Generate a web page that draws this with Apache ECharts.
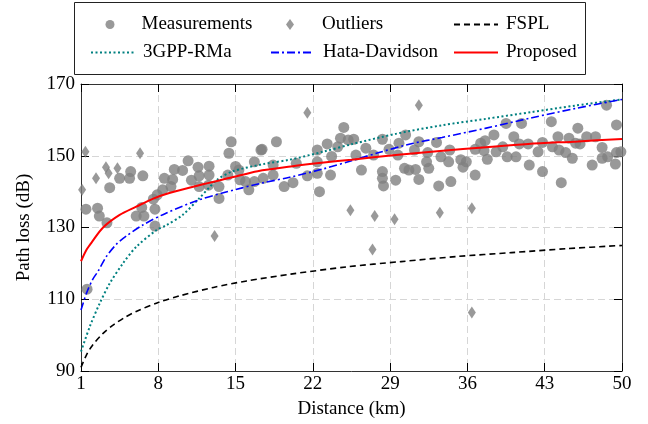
<!DOCTYPE html>
<html><head><meta charset="utf-8">
<script src="https://cdn.jsdelivr.net/npm/echarts@6/dist/echarts.min.js"></script>
<style>html,body{margin:0;padding:0;background:#fff}#c{width:648px;height:424px}</style>
</head><body><div id="c"></div>
<script>
const xTicks = [1, 8, 15, 22, 29, 36, 43, 50];
const measurements = [
[1.55,112.8],[1.45,135.1],[2.5,135.4],[2.66,133.2],[3.35,131.3],[3.6,141.1],[4.5,143.7],[5.4,143.7],[5.5,145.6],[6.6,144.4],[6.0,133.2],[6.5,135.6],[6.7,133.2],[7.7,135.1],[7.7,130.4],[7.55,137.9],[7.9,139.1],[8.4,140.5],[8.55,143.7],
[9.45,146.2],[10.2,145.9],[10.7,148.6],[11.6,146.8],[12.6,147.1],[9.3,143.4],[9.15,141.4],[11.0,143.2],[11.7,144.4],[11.7,141.4],[12.6,144.6],[12.55,141.8],[13.5,141.4],[13.5,138.1],[14.3,144.6],[14.4,150.7],[14.6,153.9],[15.0,147],[15.3,146],[15.4,143.3],[15.9,142.8],[16.2,140.5],[16.7,148.3],[17.3,151.6],[16.7,142.8],
[17.4,151.8],[18.7,153.9],[17.5,143.7],[18.4,147.4],[18.4,144.6],[19.4,141.4],[20.2,142.5],[20.5,147.9],[21.5,144.4],[22.4,145.1],[22.4,148.3],[22.4,151.6],[22.6,140.0],[23.3,153.3],[23.6,144.6],[23.7,149.8],[24.25,152.5],[24.5,154.9],[24.8,157.9],[25.2,154.4],
[25.7,154.6],[25.9,150.2],[26.8,152.1],[26.4,146],[27.5,150.2],[28.3,154.6],[28.9,151.8],[28.3,145.6],[28.3,143.7],[28.4,141.6],[29.5,143.2],[29.7,150.2],[29.8,153.5],[30.3,146.5],[30.4,155.8],[30.7,146.0],[31.2,151.6],[31.3,146.2],[31.6,153.9],[31.6,143.4],[32.3,148.3],[32.5,146.5],[32.4,150.9],[33.2,153.7],[33.4,141.6],[33.6,149.7],
[34.5,142.8],[34.4,151.6],[34.3,148.3],[35.4,148.9],[35.9,148.3],[35.6,146.8],[36.7,144.6],[36.7,151.8],[37.2,153.5],[37.6,154.2],[37.5,151.4],[37.8,149],[38.4,155.8],[38.6,151.1],[39.2,152.5],[39.6,149.7],[39.5,159.0],[40.2,155.3],[40.4,149.7],[40.7,153.3],[40.9,159.0],[41.5,153.3],[41.6,147.4],
[42.4,151.1],[42.8,153.7],[42.8,145.6],[43.6,159.5],[43.7,152.5],[44.2,155.3],[44.3,151.6],[44.5,142.5],[44.9,150.9],[45.2,154.9],[45.5,149.3],[45.8,153.5],[46.0,157.7],[46.2,153.3],[46.8,155.3],[47.3,147.4],[47.6,155.3],[48.2,152.3],[48.2,149.3],[48.6,164.1],[48.7,149.7],[49.4,147.7],[49.5,150.9],[49.5,158.6],[49.9,151.1]
];
const outliers = [
[1.1,140.5],[1.4,151.1],[2.36,143.7],[3.26,146.8],[3.5,145.1],[4.3,146.5],[6.35,150.7],[13.1,127.6],[21.5,162.0],[25.4,134.8],[27.4,123.9],[27.6,133.2],[29.4,132.3],[31.6,164.1],[33.5,134.1],[36.4,135.4],[36.4,106.3]
];
const fspl = [[1,91],[1.5,94.5],[2,97],[3,100.5],[4,103],[5,105],[6,106.6],[8,109.1],[10,111],[13,113.3],[16,115.1],[20,117],[25,119],[30,120.5],[35,121.9],[40,123],[45,124.1],[50,125]];
const rma = [[1,95.4],[1.8,102.4],[2.7,108.9],[3.6,114.4],[4.8,120],[6,124.6],[7.85,129.3],[8.7,130.6],[10.2,133.5],[11.7,138.1],[13.3,143.2],[14.7,145.6],[17.4,147.6],[19.9,148.9],[22.9,151.1],[25.5,153.2],[29.5,156.1],[33.7,158.5],[37.7,160.3],[41.85,162.2],[45.8,164.0],[50,165.7]];
const hata = [[1,107],[1.5,111.7],[2.05,115.5],[2.5,117.6],[3.3,121.9],[4.2,125.3],[5.1,127.6],[6.6,130.7],[8.7,134.0],[11.7,137.7],[13.8,139.6],[17.4,142.4],[19.9,144.0],[22.9,146.3],[25.5,148.6],[28,150.9],[31,153.4],[33.7,155.1],[37.7,157.7],[41.85,160.6],[45.8,163.2],[50,165.7]];
const proposed = [[1,120.6],[1.5,123.8],[2,126],[3,130],[4.5,133.5],[6,135.8],[7.5,138],[9,139.6],[11.7,141.8],[14.7,144],[17,145.7],[20,147],[23,148.1],[25.5,148.9],[29.5,150.2],[33.5,151.3],[37.7,152.4],[41.5,153.3],[46,154],[50,154.7]];

const FONT = 'Liberation Serif';
const chart = echarts.init(document.getElementById('c'), null, {renderer: 'canvas'});
function lg(name, left, top, w, h, pad, hideSym) {
  const o = {data: [name], left: left, top: top, itemWidth: w, itemHeight: h, itemGap: 0, padding: 0,
    symbolKeepAspect: false,
    textStyle: {fontFamily: FONT, fontSize: 19, color: '#000', padding: [0, 0, 0, pad]}, selectedMode: false};
  if (hideSym) o.itemStyle = {opacity: 0};
  return o;
}
chart.setOption({
  animation: false,
  backgroundColor: '#fff',
  graphic: [{type: 'rect', shape: {x: 74.5, y: 2.5, width: 511, height: 72}, style: {fill: 'none', stroke: '#222', lineWidth: 1}, z: 100}],
  legend: [
    lg('Measurements', 105.5, 15, 9, 9, 22, false),
    lg('Outliers', 286, 15, 8, 11, 23, false),
    lg('FSPL', 453, 15, 44, 9, 3, true),
    lg('3GPP-RMa', 90, 43, 43, 9, 4, true),
    lg('Hata-Davidson', 270, 43, 43, 9, 4, true),
    lg('Proposed', 453, 43, 44, 9, 3, true)
  ],
  grid: {left: 81, right: 26, top: 84, bottom: 53, containLabel: false},
  xAxis: [{
    type: 'value', min: 1, max: 50, position: 'bottom',
    name: 'Distance (km)', nameLocation: 'middle', nameGap: 29,
    nameTextStyle: {fontFamily: FONT, fontSize: 19, color: '#000'},
    axisLine: {show: true, lineStyle: {color: '#333', width: 1}},
    axisTick: {show: true, inside: true, length: 8, customValues: xTicks, lineStyle: {color: '#000'}},
    axisLabel: {customValues: xTicks, fontFamily: FONT, fontSize: 19, color: '#000', margin: 4},
    splitLine: {show: true, lineStyle: {color: '#d6d6d6', type: [7, 4], width: 1}}
  }, {
    type: 'value', min: 1, max: 50, position: 'top',
    axisLine: {show: true, lineStyle: {color: '#333', width: 1}},
    axisTick: {show: true, inside: true, length: 8, customValues: xTicks, lineStyle: {color: '#000'}},
    axisLabel: {show: false}, splitLine: {show: false}
  }],
  yAxis: [{
    type: 'value', min: 90, max: 170, interval: 20, position: 'left',
    name: 'Path loss (dB)', nameLocation: 'middle', nameGap: 47,
    nameTextStyle: {fontFamily: FONT, fontSize: 19, color: '#000'},
    axisLine: {show: true, lineStyle: {color: '#333', width: 1}},
    axisTick: {show: true, inside: true, length: 8, lineStyle: {color: '#000'}},
    axisLabel: {fontFamily: FONT, fontSize: 19, color: '#000', margin: 6},
    splitLine: {show: true, lineStyle: {color: '#d6d6d6', type: [7, 4], width: 1}}
  }, {
    type: 'value', min: 90, max: 170, interval: 20, position: 'right',
    axisLine: {show: true, lineStyle: {color: '#333', width: 1}},
    axisTick: {show: true, inside: true, length: 8, lineStyle: {color: '#000'}},
    axisLabel: {show: false}, splitLine: {show: false}
  }],
  series: [
    {name: 'Measurements', type: 'scatter', data: measurements, symbol: 'circle', symbolSize: 11,
      itemStyle: {color: '#808080'}, z: 2},
    {name: 'Outliers', type: 'scatter', data: outliers, symbol: 'diamond', symbolSize: [8, 12],
      itemStyle: {color: '#808080'}, z: 2},
    {name: 'FSPL', type: 'line', data: fspl, showSymbol: false, symbol: 'none', smooth: 0.3,
      lineStyle: {color: '#000', width: 1.6, type: [6, 4]}, itemStyle: {color: '#000'}, z: 3},
    {name: '3GPP-RMa', type: 'line', data: rma, showSymbol: false, symbol: 'none', smooth: 0.3,
      lineStyle: {color: '#008080', width: 2, type: [2, 2.5]}, itemStyle: {color: '#008080'}, z: 3},
    {name: 'Hata-Davidson', type: 'line', data: hata, showSymbol: false, symbol: 'none', smooth: 0.3,
      lineStyle: {color: '#0000ff', width: 1.6, type: [8, 3, 2, 3]}, itemStyle: {color: '#0000ff'}, z: 3},
    {name: 'Proposed', type: 'line', data: proposed, showSymbol: false, symbol: 'none', smooth: 0.3,
      lineStyle: {color: '#ff0000', width: 2, type: 'solid'}, itemStyle: {color: '#ff0000'}, z: 4}
  ]
});
</script></body></html>
